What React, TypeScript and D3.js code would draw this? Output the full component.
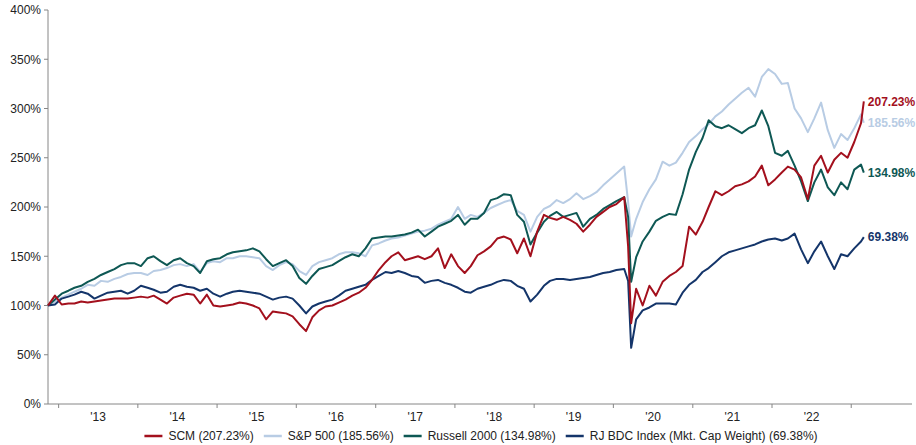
import { useEffect, useRef } from "react"
import * as d3 from "d3"

// month-ish sample points (index, 100 = start)
const dates = [
  "2012-11-13", "2012-12-15",
  "2013-01-15", "2013-02-15", "2013-03-15", "2013-04-15", "2013-05-15", "2013-06-15", "2013-07-15", "2013-08-15", "2013-09-15", "2013-10-15", "2013-11-15", "2013-12-15",
  "2014-01-15", "2014-02-15", "2014-03-15", "2014-04-15", "2014-05-15", "2014-06-15", "2014-07-15", "2014-08-15", "2014-09-15", "2014-10-15", "2014-11-15", "2014-12-15",
  "2015-01-15", "2015-02-15", "2015-03-15", "2015-04-15", "2015-05-15", "2015-06-15", "2015-07-15", "2015-08-15", "2015-09-15", "2015-10-15", "2015-11-15", "2015-12-15",
  "2016-01-15", "2016-02-15", "2016-03-15", "2016-04-15", "2016-05-15", "2016-06-15", "2016-07-15", "2016-08-15", "2016-09-15", "2016-10-15", "2016-11-15", "2016-12-15",
  "2017-01-15", "2017-02-15", "2017-03-15", "2017-04-15", "2017-05-15", "2017-06-15", "2017-07-15", "2017-08-15", "2017-09-15", "2017-10-15", "2017-11-15", "2017-12-15",
  "2018-01-15", "2018-02-15", "2018-03-15", "2018-04-15", "2018-05-15", "2018-06-15", "2018-07-15", "2018-08-15", "2018-09-15", "2018-10-15", "2018-11-15", "2018-12-15",
  "2019-01-15", "2019-02-15", "2019-03-15", "2019-04-15", "2019-05-15", "2019-06-15", "2019-07-15", "2019-08-15", "2019-09-15", "2019-10-15", "2019-11-15", "2019-12-15",
  "2020-01-15", "2020-02-20", "2020-03-09", "2020-03-23", "2020-04-15", "2020-05-15", "2020-06-15", "2020-07-15", "2020-08-15", "2020-09-15", "2020-10-15", "2020-11-15", "2020-12-15",
  "2021-01-15", "2021-02-15", "2021-03-15", "2021-04-15", "2021-05-15", "2021-06-15", "2021-07-15", "2021-08-15", "2021-09-15", "2021-10-15", "2021-11-15", "2021-12-15",
  "2022-01-15", "2022-02-15", "2022-03-15", "2022-04-15", "2022-05-15", "2022-06-15", "2022-07-15", "2022-08-15", "2022-09-15", "2022-10-15", "2022-11-15", "2022-12-15",
  "2023-01-15", "2023-02-15", "2023-02-28",
]

const scm = [
  100, 110,
  101, 102, 102, 104, 103, 104, 105, 106, 107, 107, 107, 108,
  109, 108, 110, 106, 102, 108, 110, 112, 111, 102, 111, 100,
  99, 100, 101, 103, 102, 100, 97, 86, 94, 93, 92, 89,
  81, 74, 88, 95, 99, 100, 103, 106, 110, 113, 118, 126,
  136, 144, 150, 154, 146, 148, 150, 147, 150, 158, 138, 152,
  140, 133, 140, 151, 155, 160, 168, 170, 167, 153, 168, 150,
  175, 192, 189, 187, 190, 187, 183, 175, 182, 190, 195, 200,
  203, 210, 160, 82, 117, 100, 120, 110, 124, 130, 134, 140, 180,
  172, 185, 200, 216, 212, 216, 221, 223, 226, 231, 242, 222,
  228, 235, 241, 238, 230, 208, 242, 252, 235, 248, 255, 250,
  266, 285, 307.23,
]

const sp500 = [
  100, 104,
  108, 111, 114, 117, 121, 120, 125, 124, 127, 129, 132, 133,
  133, 131, 135, 136, 138, 141, 142, 140, 142, 134, 143, 145,
  144, 148, 148, 150, 150, 149, 148, 140, 136, 141, 144, 142,
  135, 131, 140, 144, 146, 148, 152, 154, 154, 153, 150, 161,
  163, 166, 168, 169, 171, 173, 175, 176, 178, 182, 185, 188,
  200, 188, 192, 190, 194, 199, 202, 205, 207, 196, 192, 175,
  190, 198, 201, 207, 204, 208, 214, 208, 211, 215, 222, 228,
  234, 241, 205, 170, 188, 205, 218, 228, 246, 242, 245, 255, 266,
  272, 279, 284, 292, 297, 304, 310, 316, 321, 312, 332, 340,
  335, 325, 326, 300, 290, 276, 290, 306, 278, 260, 274, 268,
  280, 294, 285.56,
]

const russell = [
  100, 106,
  112, 115, 118, 120, 124, 127, 131, 134, 137, 141, 143, 143,
  140, 148, 150, 145, 141, 146, 148, 143, 140, 133, 145, 147,
  148, 152, 154, 155, 156, 158, 155, 147, 140, 143, 146, 140,
  128, 122, 130, 137, 139, 141, 145, 149, 152, 150, 158, 168,
  169, 170, 170, 171, 172, 174, 177, 170, 175, 180, 183, 186,
  192, 182, 188, 188, 194, 207, 209, 213, 212, 192, 185, 162,
  174, 185, 191, 195, 190, 192, 194, 180, 188, 192, 198, 202,
  206, 210, 190, 124, 149, 165, 175, 186, 190, 193, 192, 213, 238,
  256, 270, 288, 282, 280, 283, 279, 275, 280, 283, 298, 282,
  255, 252, 257, 242, 226, 206, 225, 238, 220, 212, 225, 218,
  238, 243, 234.98,
]

const bdc = [
  100, 101,
  107, 109, 111, 114, 112, 107, 110, 113, 114, 115, 112, 115,
  120, 118, 116, 113, 114, 119, 121, 119, 118, 115, 117, 112,
  109, 112, 114, 115, 114, 113, 112, 109, 106, 108, 109, 107,
  100, 92, 99, 102, 104, 106, 110, 115, 117, 119, 121, 126,
  130, 134, 133, 135, 133, 130, 129, 123, 125, 126, 123, 121,
  118, 114, 113, 117, 119, 121, 124, 126, 125, 120, 117, 104,
  111, 120, 125, 127, 127, 126, 127, 128, 129, 131, 133, 134,
  136, 137, 125, 57, 86, 95, 98, 102, 102, 102, 101, 113, 121,
  126, 134, 138, 144, 150, 154, 156, 158, 160, 162, 165, 167,
  168, 166, 168, 173, 157, 143, 155, 165, 150, 137, 152, 150,
  158, 165, 169.38,
]

const yTicks = [0, 50, 100, 150, 200, 250, 300, 350, 400]
const yearTicks = [2013, 2014, 2015, 2016, 2017, 2018, 2019, 2020, 2021, 2022, 2023]
const yearLabels = ["'13", "'14", "'15", "'16", "'17", "'18", "'19", "'20", "'21", "'22"]

const series = [
  { name: "S&P 500 (185.56%)", end: "185.56%", values: sp500, color: "#B8CCE4", legend: 1 },
  { name: "Russell 2000 (134.98%)", end: "134.98%", values: russell, color: "#0E5854", legend: 2 },
  { name: "RJ BDC Index (Mkt. Cap Weight) (69.38%)", end: "69.38%", values: bdc, color: "#14356A", legend: 3 },
  { name: "SCM (207.23%)", end: "207.23%", values: scm, color: "#A3101D", legend: 0 },
]

export default function App() {
  const svgRef = useRef<SVGSVGElement>(null)
  const width = 916
  const height = 445

  useEffect(() => {
    if (!svgRef.current) return
    document.body.style.margin = "0"

    const svg = d3.select(svgRef.current)
    svg.selectAll("*").remove()
    svg.attr("width", width).attr("height", height)

    const parse = d3.timeParse("%Y-%m-%d")
    const times = dates.map((d) => parse(d) as Date)

    const x = d3
      .scaleTime()
      .domain([new Date(2012, 10, 13), new Date(2023, 9, 8)])
      .range([48, 912])
    const y = d3.scaleLinear().domain([0, 400]).range([404, 10])

    const font = "Liberation Sans, Arial, sans-serif"
    const axisColor = "#868686"

    // y axis
    svg.append("line").attr("x1", 48).attr("x2", 48).attr("y1", y(400)).attr("y2", y(0))
      .attr("stroke", axisColor)
    const yg = svg.append("g")
    yg.selectAll("line").data(yTicks).enter().append("line")
      .attr("x1", 44).attr("x2", 48)
      .attr("y1", (d) => y(d)).attr("y2", (d) => y(d))
      .attr("stroke", axisColor)
    yg.selectAll("text").data(yTicks).enter().append("text")
      .attr("x", 41).attr("y", (d) => y(d)).attr("dy", "0.36em")
      .attr("text-anchor", "end")
      .attr("font-family", font).attr("font-size", 12).attr("fill", "#222")
      .text((d) => `${d}%`)

    // x axis
    svg.append("line").attr("x1", 48).attr("x2", 912).attr("y1", y(0)).attr("y2", y(0))
      .attr("stroke", axisColor)
    const xg = svg.append("g")
    xg.selectAll("line").data(yearTicks).enter().append("line")
      .attr("x1", (d) => x(new Date(d, 0, 1))).attr("x2", (d) => x(new Date(d, 0, 1)))
      .attr("y1", 404).attr("y2", 408)
      .attr("stroke", axisColor)
    xg.selectAll("text").data(yearLabels).enter().append("text")
      .attr("x", (d, i) => x(new Date(2013 + i, 6, 2)))
      .attr("y", 421)
      .attr("text-anchor", "middle")
      .attr("font-family", font).attr("font-size", 12).attr("fill", "#222")
      .text((d) => d)

    // lines
    const line = d3
      .line<number>()
      .x((d, i) => x(times[i]))
      .y((d) => y(d))

    series.forEach((s) => {
      svg.append("path")
        .datum(s.values)
        .attr("d", line)
        .attr("fill", "none")
        .attr("stroke", s.color)
        .attr("stroke-width", 2)
        .attr("stroke-linejoin", "round")
    })

    // end labels
    series.forEach((s) => {
      const last = s.values[s.values.length - 1]
      svg.append("text")
        .attr("x", x(times[times.length - 1]) + 4)
        .attr("y", y(last))
        .attr("dy", "0.36em")
        .attr("font-family", font).attr("font-size", 12).attr("font-weight", "bold")
        .attr("fill", s.color)
        .text(s.end)
    })

    // legend, centred under the plot
    const ordered = [...series].sort((a, b) => a.legend - b.legend)
    const legend = svg.append("g")
    let cx = 0
    ordered.forEach((s) => {
      const g = legend.append("g").attr("transform", `translate(${cx},0)`)
      g.append("line").attr("x1", 0).attr("x2", 18).attr("y1", 0).attr("y2", 0)
        .attr("stroke", s.color).attr("stroke-width", 2.5)
      const t = g.append("text")
        .attr("x", 24).attr("y", 0).attr("dy", "0.36em")
        .attr("font-family", font).attr("font-size", 12).attr("fill", "#222")
        .text(s.name)
      const w = (t.node() as SVGTextElement).getComputedTextLength()
      cx += 24 + w + 10
    })
    const total = cx - 10
    legend.attr("transform", `translate(${481 - total / 2},436)`)
  }, [])

  return <svg ref={svgRef} style={{ display: "block" }} />
}
